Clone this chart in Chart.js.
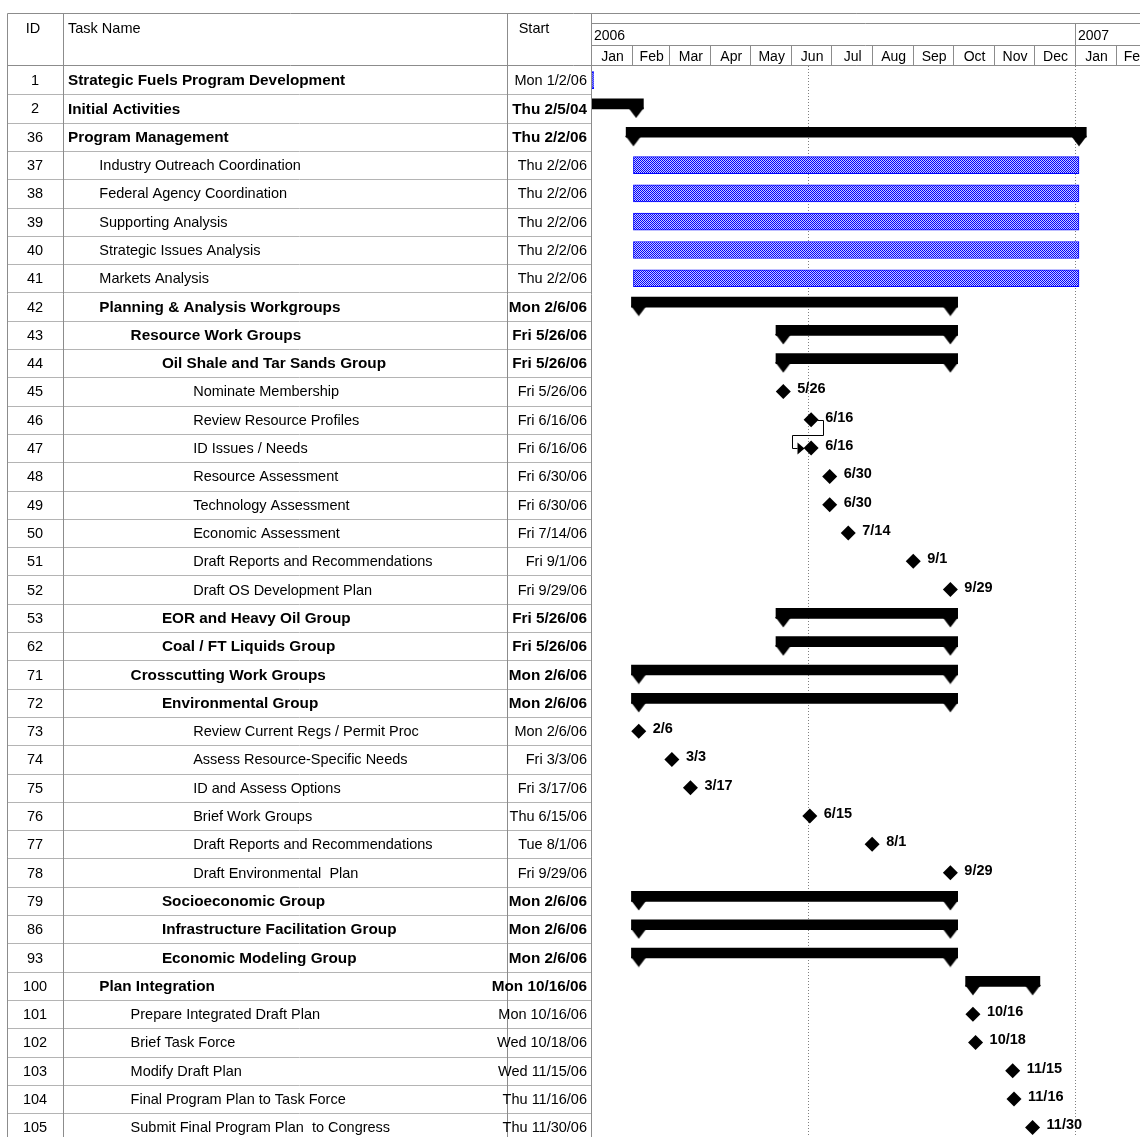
<!DOCTYPE html>
<html>
<head>
<meta charset="utf-8">
<script src="https://cdn.jsdelivr.net/npm/chart.js@4.4.1/dist/chart.umd.min.js"></script>
<style>
  html, body { margin: 0; padding: 0; background: #fff; overflow: hidden; }
</style>
</head>
<body>
<canvas id="gantt" width="1140" height="1137"></canvas>
<script>
// one entry per table row
const ids = [1, 2, 36, 37, 38, 39, 40, 41, 42, 43, 44, 45, 46, 47, 48, 49, 50, 51, 52, 53, 62,
  71, 72, 73, 74, 75, 76, 77, 78, 79, 86, 93, 100, 101, 102, 103, 104, 105];
const names = [
  'Strategic Fuels Program Development', 'Initial Activities', 'Program Management',
  'Industry Outreach Coordination', 'Federal Agency Coordination', 'Supporting Analysis',
  'Strategic Issues Analysis', 'Markets Analysis', 'Planning & Analysis Workgroups',
  'Resource Work Groups', 'Oil Shale and Tar Sands Group', 'Nominate Membership',
  'Review Resource Profiles', 'ID Issues / Needs', 'Resource Assessment', 'Technology Assessment',
  'Economic Assessment', 'Draft Reports and Recommendations', 'Draft OS Development Plan',
  'EOR and Heavy Oil Group', 'Coal / FT Liquids Group', 'Crosscutting Work Groups',
  'Environmental Group', 'Review Current Regs / Permit Proc', 'Assess Resource-Specific Needs',
  'ID and Assess Options', 'Brief Work Groups', 'Draft Reports and Recommendations',
  'Draft Environmental  Plan', 'Socioeconomic Group', 'Infrastructure Facilitation Group',
  'Economic Modeling Group', 'Plan Integration', 'Prepare Integrated Draft Plan',
  'Brief Task Force', 'Modify Draft Plan', 'Final Program Plan to Task Force',
  'Submit Final Program Plan  to Congress'];
const levels = [0, 0, 0, 1, 1, 1, 1, 1, 1, 2, 3, 4, 4, 4, 4, 4, 4, 4, 4, 3, 3,
  2, 3, 4, 4, 4, 4, 4, 4, 3, 3, 3, 1, 2, 2, 2, 2, 2];
const starts = ['Mon 1/2/06', 'Thu 2/5/04', 'Thu 2/2/06', 'Thu 2/2/06', 'Thu 2/2/06', 'Thu 2/2/06',
  'Thu 2/2/06', 'Thu 2/2/06', 'Mon 2/6/06', 'Fri 5/26/06', 'Fri 5/26/06', 'Fri 5/26/06',
  'Fri 6/16/06', 'Fri 6/16/06', 'Fri 6/30/06', 'Fri 6/30/06', 'Fri 7/14/06', 'Fri 9/1/06',
  'Fri 9/29/06', 'Fri 5/26/06', 'Fri 5/26/06', 'Mon 2/6/06', 'Mon 2/6/06', 'Mon 2/6/06',
  'Fri 3/3/06', 'Fri 3/17/06', 'Thu 6/15/06', 'Tue 8/1/06', 'Fri 9/29/06', 'Mon 2/6/06',
  'Mon 2/6/06', 'Mon 2/6/06', 'Mon 10/16/06', 'Mon 10/16/06', 'Wed 10/18/06', 'Wed 11/15/06',
  'Thu 11/16/06', 'Thu 11/30/06'];
// s = summary, t = task, m = milestone
const kinds = ['t', 's', 's', 't', 't', 't', 't', 't', 's', 's', 's', 'm', 'm', 'm', 'm', 'm', 'm', 'm', 'm',
  's', 's', 's', 's', 'm', 'm', 'm', 'm', 'm', 'm', 's', 's', 's', 's', 'm', 'm', 'm', 'm', 'm'];
// where the bar ends, null for milestones
const finishes = ['1/3/06', '2/4/06', '1/4/07', '1/4/07', '1/4/07', '1/4/07', '1/4/07', '1/4/07',
  '9/29/06', '9/29/06', '9/29/06', null, null, null, null, null, null, null, null,
  '9/29/06', '9/29/06', '9/29/06', '9/29/06', null, null, null, null, null, null,
  '9/29/06', '9/29/06', '9/29/06', '11/30/06', null, null, null, null, null];
const boldNames = [1, 1, 1, 0, 0, 0, 0, 0, 1, 1, 1, 0, 0, 0, 0, 0, 0, 0, 0, 1, 1,
  1, 1, 0, 0, 0, 0, 0, 0, 1, 1, 1, 1, 0, 0, 0, 0, 0];
// predecessor links drawn as connectors (row -> row)
const links = [[12, 13]];

// timescale
const years = ['2006', '2007'];
const months = ['Jan', 'Feb', 'Mar', 'Apr', 'May', 'Jun', 'Jul', 'Aug', 'Sep', 'Oct', 'Nov', 'Dec', 'Jan', 'Feb'];
const markerDates = ['6/14/06', '1/1/07'];  // dotted lines

const FONT = '"Liberation Sans", Arial, sans-serif';
const CAP = 5.5; // summary bar runs past its dates by half a cap

// days since 1 Jan 2006
function day(s) {
  const p = s.split(' ').pop().split('/').map(Number);
  return Math.round((Date.UTC(2000 + p[2], p[0] - 1, p[1]) - Date.UTC(2006, 0, 1)) / 864e5);
}

const taskBars = [], sumBars = [], sumCaps = [], miles = [];
kinds.forEach((k, i) => {
  const a = day(starts[i]);
  if (k === 't') taskBars.push({y: i, x: [a, day(finishes[i])]});
  if (k === 's') {
    const b = day(finishes[i]);
    sumBars.push({y: i, x: [a - CAP, b + CAP]});
    sumCaps.push({x: a, y: i}, {x: b, y: i});
  }
  if (k === 'm') miles.push({x: a, y: i});
});

const canvas = document.getElementById('gantt');

function hatch() {
  const c = document.createElement('canvas');
  c.width = 2; c.height = 2;
  const g = c.getContext('2d');
  g.fillStyle = '#c8c8ff'; g.fillRect(0, 0, 2, 2);
  g.fillStyle = '#0000ff'; g.fillRect(0, 0, 1, 1); g.fillRect(1, 1, 1, 1);
  return canvas.getContext('2d').createPattern(c, 'repeat');
}

// flat down-pointing cap under a summary bar end (lower half of the image)
function capShape() {
  const c = document.createElement('canvas');
  c.width = 16; c.height = 20;
  const g = c.getContext('2d');
  g.fillStyle = '#000';
  g.beginPath();
  g.moveTo(0, 9); g.lineTo(16, 9); g.lineTo(8, 19.5);
  g.closePath();
  g.fill();
  return c;
}

function hline(ctx, x1, x2, y) { ctx.beginPath(); ctx.moveTo(x1, y); ctx.lineTo(x2, y); ctx.stroke(); }
function vline(ctx, x, y1, y2) { ctx.beginPath(); ctx.moveTo(x, y1); ctx.lineTo(x, y2); ctx.stroke(); }

// table, timescale header, milestone labels and links
const tablePlugin = {
  id: 'table',
  afterDraw(chart) {
    const {ctx, chartArea} = chart;
    const x = chart.scales.x, y = chart.scales.y;
    const W = chart.width, H = chart.height;
    const L = 7.5, C1 = 63.5, C2 = 507.5, C3 = chartArea.left + 0.5, TOP = 13.5, HB = chartArea.top - 0.5;
    ctx.save();

    // row lines
    ctx.lineWidth = 1;
    ctx.strokeStyle = '#b4b4b4';
    ids.forEach((id, i) => hline(ctx, L, C3, Math.round(y.getPixelForValue(i + 0.5)) + 0.5));

    // frame
    ctx.strokeStyle = '#8c8c8c';
    hline(ctx, L, W, TOP);
    hline(ctx, L, W, HB);
    hline(ctx, C3, W, 23.5);
    hline(ctx, C3, W, 45.5);
    [L, C1, C2, C3].forEach(cx => vline(ctx, cx, TOP, H));

    // timescale
    const bounds = [];
    for (let k = 0; k <= months.length; k++) {
      bounds.push(x.getPixelForValue((Date.UTC(2006, k, 1) - Date.UTC(2006, 0, 1)) / 864e5));
    }
    ctx.fillStyle = '#000';
    ctx.font = '14px ' + FONT;
    ctx.textBaseline = 'alphabetic';
    months.forEach((m, k) => {
      const bx = Math.round(bounds[k]) + 0.5;
      if (k > 0) vline(ctx, bx, 45.5, HB);
      if (k > 0 && m === 'Jan') vline(ctx, bx, 23.5, HB);
      ctx.textAlign = 'center';
      ctx.fillText(m, (bounds[k] + bounds[k + 1]) / 2 + 1, 61);
    });
    ctx.textAlign = 'left';
    years.forEach((yr, k) => ctx.fillText(yr, Math.round(bounds[k * 12]) + 3, 40));

    // column headers
    ctx.font = '14.5px ' + FONT;
    ctx.textAlign = 'center';
    ctx.fillText('ID', 33, 33);
    ctx.fillText('Start', 534, 33);
    ctx.textAlign = 'left';
    ctx.fillText('Task Name', 68, 33);

    // rows
    ctx.textBaseline = 'middle';
    ids.forEach((id, i) => {
      const cy = y.getPixelForValue(i) + 1;
      ctx.font = '14.5px ' + FONT;
      ctx.textAlign = 'center';
      ctx.fillText(String(id), 35, cy);
      ctx.textAlign = 'left';
      ctx.font = (boldNames[i] ? 'bold 15.3px ' : '14.5px ') + FONT;
      ctx.fillText(names[i], 68 + levels[i] * 31.3, cy);
      ctx.textAlign = 'right';
      ctx.font = (kinds[i] === 's' ? 'bold 15.3px ' : '14.5px ') + FONT;
      ctx.fillText(starts[i], 587, cy);
    });

    // milestone labels
    ctx.font = 'bold 14.5px ' + FONT;
    ctx.textAlign = 'left';
    miles.forEach(p => {
      const d = starts[p.y].split(' ').pop().split('/');
      ctx.fillText(d[0] + '/' + d[1], x.getPixelForValue(p.x) + 14, y.getPixelForValue(p.y) - 2);
    });

    // finish-to-start links
    ctx.strokeStyle = '#000';
    links.forEach(([a, b]) => {
      const xa = Math.round(x.getPixelForValue(day(starts[a]))) + 0.5;
      const xb = Math.round(x.getPixelForValue(day(starts[b]))) + 0.5;
      const ya = Math.round(y.getPixelForValue(a)) + 0.5;
      const yb = Math.round(y.getPixelForValue(b)) + 0.5;
      const mid = Math.round(y.getPixelForValue(a + 0.5)) + 1.5;
      ctx.beginPath();
      ctx.moveTo(xa + 6, ya);
      ctx.lineTo(xa + 12, ya);
      ctx.lineTo(xa + 12, mid);
      ctx.lineTo(xb - 19, mid);
      ctx.lineTo(xb - 19, yb);
      ctx.lineTo(xb - 14, yb);
      ctx.stroke();
      ctx.beginPath();
      ctx.moveTo(xb - 14, yb - 6);
      ctx.lineTo(xb - 7, yb);
      ctx.lineTo(xb - 14, yb + 6);
      ctx.closePath();
      ctx.fill();
    });
    ctx.restore();
  }
};

new Chart(canvas, {
  type: 'bar',
  data: {
    datasets: [
      {
        type: 'bar', indexAxis: 'y', data: taskBars, grouped: false,
        backgroundColor: hatch(), borderColor: '#0000ff', borderWidth: 1, borderSkipped: false,
        barThickness: 17
      },
      {
        type: 'bar', indexAxis: 'y', yAxisID: 'ys', data: sumBars, grouped: false,
        backgroundColor: '#000', borderWidth: 0, barThickness: 10
      },
      {
        type: 'scatter', data: sumCaps, pointStyle: capShape(),
        radius: 8, backgroundColor: '#000', borderWidth: 0
      },
      {
        type: 'scatter', data: miles, pointStyle: 'rectRot',
        radius: 7.5, backgroundColor: '#000', borderWidth: 0
      }
    ]
  },
  options: {
    responsive: false,
    animation: false,
    events: [],
    layout: {autoPadding: false, padding: {left: 591, top: 66, right: 0, bottom: 0}},
    plugins: {legend: {display: false}, tooltip: {enabled: false}},
    scales: {
      x: {
        type: 'linear', position: 'top', min: 0, max: 414, offset: false,
        afterBuildTicks: ax => { ax.ticks = markerDates.map(d => ({value: day(d)})); },
        ticks: {display: false},
        grid: {color: '#808080', drawTicks: false, offset: false},
        border: {display: false, dash: [1, 2]}
      },
      y: {type: 'linear', min: -0.5, max: 37.34, reverse: true, offset: false, display: false},
      ys: {type: 'linear', axis: 'y', min: -0.5 + 0.16, max: 37.34 + 0.16, reverse: true, offset: false, display: false}
    }
  },
  plugins: [tablePlugin]
});
</script>
</body>
</html>
